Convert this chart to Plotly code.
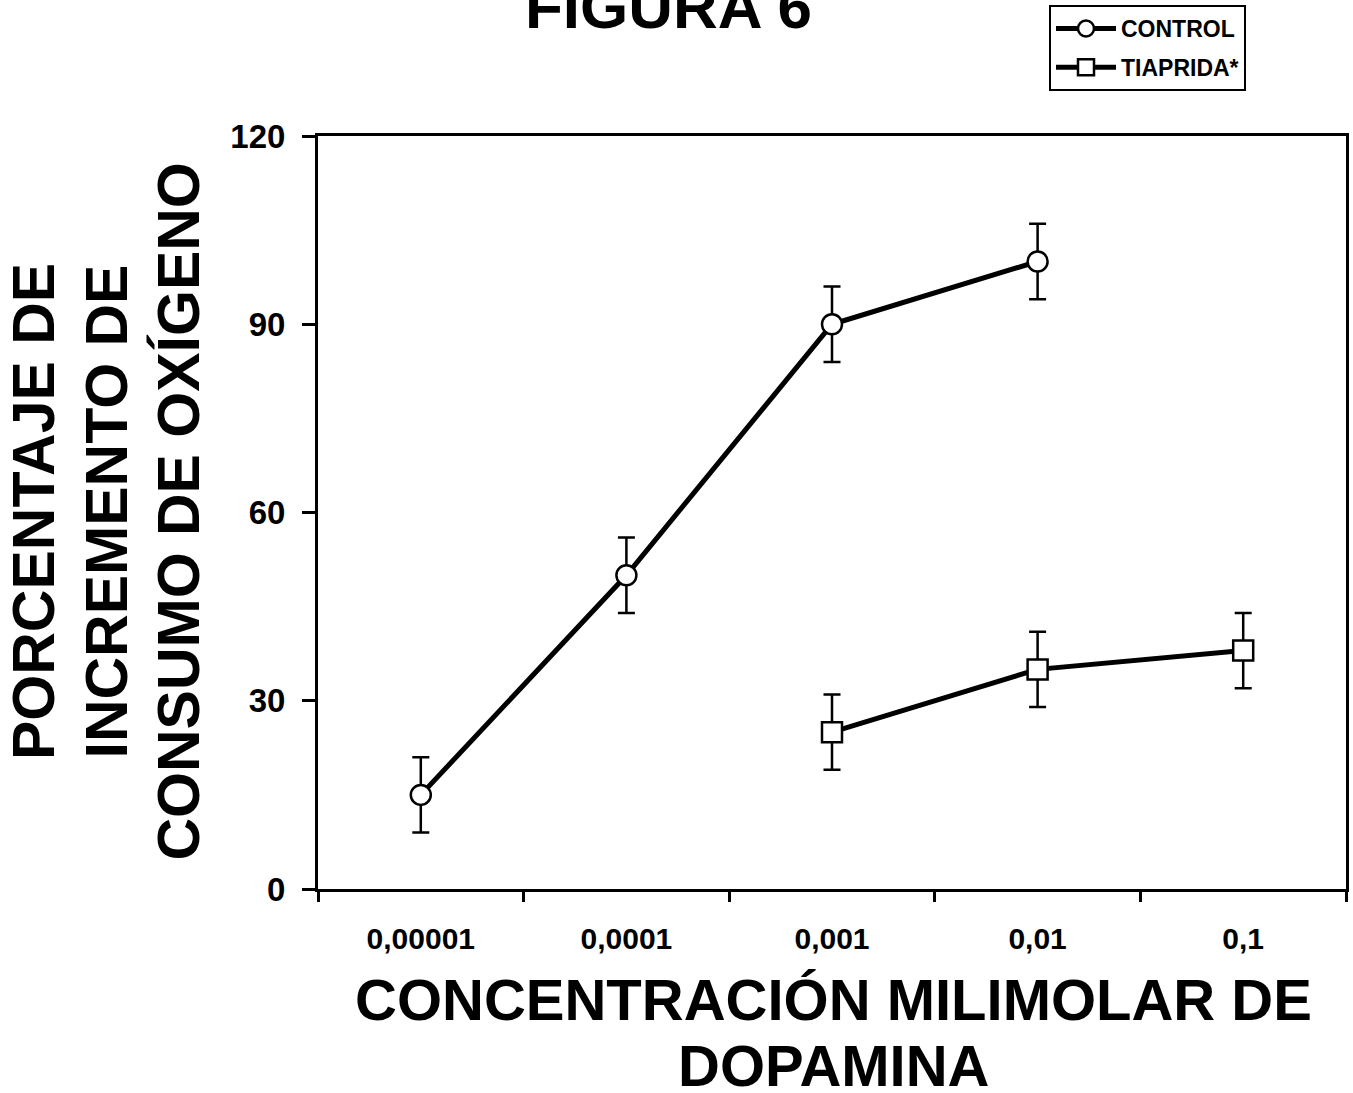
import plotly.graph_objects as go

# Dopamine concentrations (mM) shown as categories on the x axis
concentraciones = ["0,00001", "0,0001", "0,001", "0,01", "0,1"]

# CONTROL series
control_x = ["0,00001", "0,0001", "0,001", "0,01"]
control_y = [15, 50, 90, 100]
control_err = [6, 6, 6, 6]

# TIAPRIDA* series
tiaprida_x = ["0,001", "0,01", "0,1"]
tiaprida_y = [25, 35, 38]
tiaprida_err = [6, 6, 6]

y_ticks = [0, 30, 60, 90, 120]

W, H = 1353, 1093
L, R, T, B = 318, 7, 136, 204
PW, PH = W - L - R, H - T - B

FONT = "Liberation Sans, Arial, sans-serif"


def px(xp):
    return (xp - L) / PW


def py(yp):
    return (H - B - yp) / PH


def series(name, xs, ys, errs, symbol, group):
    return go.Scatter(
        x=xs, y=ys, name=name, mode="lines+markers",
        legendgroup=group,
        line=dict(color="black", width=5),
        marker=dict(symbol=symbol, size=20, color="white",
                    line=dict(color="black", width=2.5)),
        error_y=dict(type="data", array=errs, visible=True,
                     color="black", thickness=2.5, width=8.5),
    )


fig = go.Figure()
fig.add_trace(series("CONTROL", control_x, control_y, control_err, "circle", "c"))
fig.add_trace(series("TIAPRIDA*", tiaprida_x, tiaprida_y, tiaprida_err, "square", "t"))

fig.update_layout(
    width=W, height=H,
    margin=dict(l=L, r=R, t=T, b=B, autoexpand=False),
    paper_bgcolor="white", plot_bgcolor="white",
    font=dict(family=FONT, color="black", weight="bold"),
    showlegend=True,
    legend=dict(
        x=px(1049), y=py(5), xanchor="left", yanchor="top",
        bordercolor="black", borderwidth=2, bgcolor="white",
        font=dict(family=FONT, size=23, color="black", weight="bold"),
        tracegroupgap=6, itemwidth=60,
    ),
)

fig.update_xaxes(
    type="category", categoryorder="array", categoryarray=concentraciones,
    range=[-0.5, len(concentraciones) - 0.5],
    tickson="boundaries", ticks="outside", ticklen=10, tickwidth=3,
    tickcolor="black", showline=True, linewidth=3, linecolor="black",
    mirror=True, showgrid=False, zeroline=False,
    tickfont=dict(family=FONT, size=30, color="black", weight="bold"),
    ticklabelstandoff=21,
)
fig.update_yaxes(
    range=[0, 120], tickvals=y_ticks, ticks="outside", ticklen=13,
    tickwidth=3, tickcolor="black", showline=True, linewidth=3,
    linecolor="black", mirror=True, showgrid=False, zeroline=False,
    tickfont=dict(family=FONT, size=33, color="black", weight="bold"),
    ticklabelstandoff=10,
)

def label(text, x, y, size, angle=0):
    fig.add_annotation(
        text=text, xref="paper", yref="paper", x=px(x), y=py(y),
        xanchor="center", yanchor="middle", showarrow=False, textangle=angle,
        font=dict(family=FONT, size=size, color="black", weight="bold"),
    )

label("FIGURA 6", 668, 7, 62)
label("CONCENTRACIÓN MILIMOLAR DE", 833, 999, 58)
label("DOPAMINA", 833, 1065, 58)
label("PORCENTAJE DE", 34, 512, 59, -90)
label("INCREMENTO DE", 106.5, 512, 59, -90)
label("CONSUMO DE OXÍGENO", 178.5, 512, 59, -90)

fig.write_html("out.html")
